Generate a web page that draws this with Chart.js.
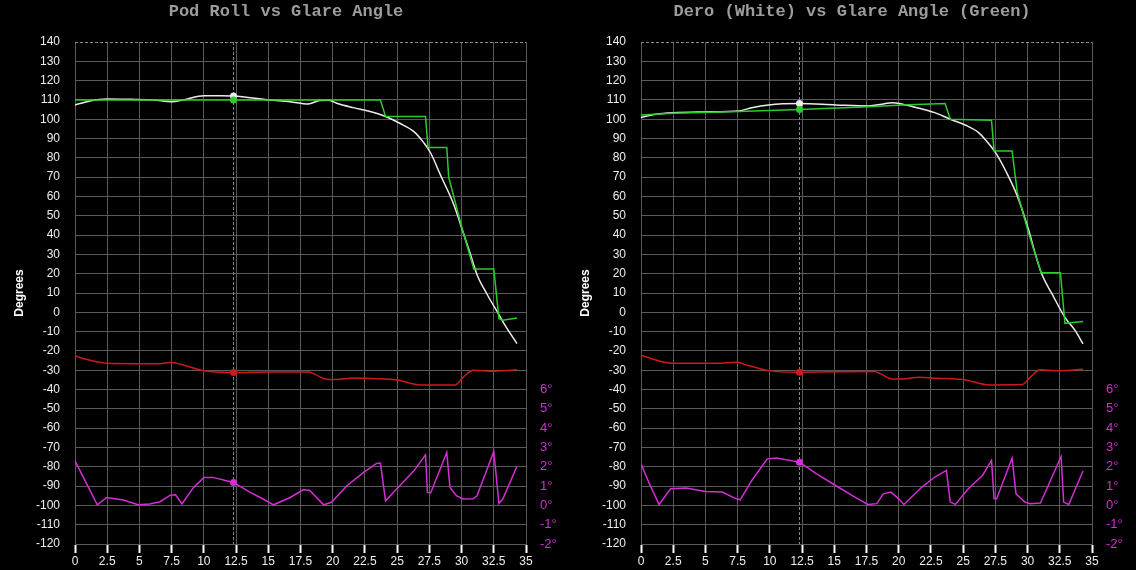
<!DOCTYPE html>
<html>
<head>
<meta charset="utf-8">
<script src="https://cdn.jsdelivr.net/npm/chart.js@4.4.1/dist/chart.umd.min.js"></script>
<style>
  body { margin: 0; background: #000; width: 1136px; height: 570px; overflow: hidden; position: relative; }
  canvas { position: absolute; top: 0; }
</style>
</head>
<body>
<canvas id="podChart" width="568" height="570" style="left:0"></canvas>
<canvas id="deroChart" width="568" height="570" style="left:566px"></canvas>
<script>
// cursor position (seconds)
const CROSS_X = 12.3;

// --- Pod Roll chart ---
const podRollX = [0, 1.16, 2.5, 4.3, 6.1, 7.5, 8.4, 10, 11.3, 12.3, 15.1, 16.7, 18.1, 19.0, 19.7, 20.3, 21.6, 22.9, 24.1, 25.2, 26.3, 27.0, 27.6, 28.3, 29.4, 30.1, 30.7, 31.2, 32.0, 32.9, 33.5, 34.3];
const podRollY = [107.4, 109.5, 110.5, 110.3, 110, 109.1, 110, 112.2, 112.2, 112, 110, 109.1, 107.9, 109.7, 109.8, 108.3, 106, 104, 101.4, 97.9, 93.6, 88.4, 82.5, 72, 55.7, 41.9, 29.8, 19.5, 9.1, -1.2, -8.1, -16.2];

const podGlareX = [0, 12.3, 23.7, 24.1, 27.2, 27.4, 28.85, 29.0, 30.1, 30.95, 32.5, 32.9, 33.2, 34.3];
const podGlareY = [110, 110, 110, 101.4, 101.4, 85.3, 85.3, 70, 42, 22.4, 22.4, -3.3, -4.1, -2.9];

const podRedX = [0, 1.16, 2.5, 4.8, 6.6, 7.4, 8.2, 10, 12.3, 15.1, 18.1, 18.6, 19.5, 20.3, 21.6, 22.9, 25, 26.8, 29.5, 30.1, 30.9, 32.2, 34.3];
const podRedY = [-22.6, -24.8, -26.4, -26.6, -26.6, -26, -26.9, -30.3, -31.2, -30.9, -30.9, -32, -34.7, -34.8, -34, -34.3, -35, -37.6, -37.6, -33.8, -30, -30.5, -29.8];

const podMagX = [0, 0.78, 1.73, 2.46, 3.75, 4.9, 5.8, 6.6, 7.4, 7.8, 8.3, 9.2, 10, 10.7, 12.3, 13.6, 14.6, 15.4, 16.7, 17.7, 18.2, 19.3, 19.9, 21.1, 22.4, 23.4, 23.7, 24.1, 25.2, 26.3, 27.2, 27.35, 27.6, 28.85, 29.1, 29.6, 30.1, 30.9, 31.2, 32.5, 32.9, 33.2, 34.3];
const podMagDeg = [2.31, 1.28, 0.03, 0.41, 0.28, 0.03, 0.07, 0.19, 0.53, 0.55, 0.07, 0.93, 1.45, 1.45, 1.19, 0.67, 0.33, 0.03, 0.41, 0.81, 0.79, 0.03, 0.16, 1.02, 1.71, 2.17, 2.19, 0.24, 1.02, 1.79, 2.62, 0.67, 0.64, 2.74, 0.93, 0.5, 0.33, 0.34, 0.5, 2.79, 0.1, 0.33, 2.03];

// --- Dero chart ---
const deroX = [0, 1.16, 2.5, 4.8, 7.6, 8.6, 9.9, 12.3, 15.1, 17.7, 18.7, 19.5, 20.3, 21.6, 22.8, 24.0, 25.2, 26.2, 26.8, 27.5, 28.3, 29.2, 30.1, 30.6, 31.1, 31.9, 32.9, 33.7, 34.3];
const deroY = [100.9, 102.6, 103.4, 103.8, 104.3, 106, 107.4, 108.1, 107.4, 106.9, 107.8, 108.6, 107.8, 105.7, 103.4, 100, 96.9, 93.1, 88.8, 82.8, 73.3, 60.3, 42.2, 30.2, 19.8, 9.5, -2.6, -9.5, -16.4];

const deroGlareX = [0, 2.5, 7.6, 12.3, 17.7, 20.3, 23.6, 24.0, 27.2, 27.4, 28.8, 29.2, 30.1, 31.05, 32.55, 32.9, 34.3];
const deroGlareY = [102.2, 103.1, 104, 105, 106.4, 107.4, 108.1, 100, 99.5, 83.6, 83.6, 62.1, 40.5, 20.5, 20.5, -5.7, -4.7];

const deroRedX = [0, 2.5, 6.1, 7.5, 8.1, 9.9, 12.3, 18.1, 18.6, 19.5, 20.3, 21.6, 22.8, 25.0, 27.0, 29.6, 30.2, 31.0, 32.1, 34.3];
const deroRedY = [-22.4, -26.4, -26.4, -25.9, -27.1, -30.2, -31, -30.7, -31.9, -34.5, -34.5, -33.6, -34.1, -34.8, -37.6, -37.4, -33.6, -29.8, -30.3, -29.5];

const deroMagX = [0, 0.65, 1.4, 2.3, 3.5, 5.0, 6.3, 7.4, 7.7, 8.6, 9.8, 10.5, 12.3, 13.6, 15.1, 16.6, 17.6, 18.3, 18.8, 19.4, 20.0, 20.4, 21.8, 22.8, 23.7, 24.0, 24.4, 25.4, 26.5, 27.2, 27.4, 27.6, 28.8, 29.1, 29.8, 30.2, 31.0, 32.6, 32.8, 33.2, 34.3];
const deroMagDeg = [2.16, 1.12, 0.05, 0.86, 0.9, 0.72, 0.69, 0.34, 0.29, 1.29, 2.41, 2.45, 2.24, 1.64, 1.03, 0.43, 0.05, 0.09, 0.6, 0.69, 0.34, 0.05, 0.95, 1.47, 1.81, 0.17, 0.05, 0.86, 1.55, 2.33, 0.34, 0.34, 2.45, 0.6, 0.17, 0.09, 0.12, 2.53, 0.17, 0.05, 1.78];

const COLORS = { white: '#ececec', green: '#2ccb2c', red: '#cf1a1a', magenta: '#d42ed4' };
const GRID = '#5a5a5a';
const LABEL_FONT = "'Liberation Sans', Arial, sans-serif";

function toPoints(xs, ys) {
    return xs.map((x, i) => ({ x: x, y: ys[i] }));
}

function series(xs, ys, color, opts) {
    return Object.assign({
        data: toPoints(xs, ys),
        borderColor: color,
        backgroundColor: color,
        borderWidth: 1.5,
        tension: 0,
        pointRadius: ctx => (ctx.raw && ctx.raw.x === CROSS_X ? 3.5 : 0),
        pointHoverRadius: 0,
        pointBorderWidth: 0,
        yAxisID: 'y'
    }, opts || {});
}

// dashed top line + vertical cursor line
const crosshairPlugin = {
    id: 'crosshair',
    beforeDatasetsDraw(chart) {
        const { ctx, chartArea, scales } = chart;
        ctx.save();
        ctx.lineWidth = 1;
        ctx.setLineDash([3, 2]);
        ctx.strokeStyle = '#8a8a8a';
        ctx.beginPath();
        ctx.moveTo(chartArea.left, chartArea.top + 0.5);
        ctx.lineTo(chartArea.right, chartArea.top + 0.5);
        ctx.stroke();
        const cx = Math.round(scales.x.getPixelForValue(CROSS_X)) + 0.5;
        ctx.strokeStyle = '#7b8796';
        ctx.beginPath();
        ctx.moveTo(cx, chartArea.top);
        ctx.lineTo(cx, chartArea.bottom);
        ctx.stroke();
        ctx.restore();
    }
};

function makeChart(id, title, datasets) {
    return new Chart(document.getElementById(id), {
        type: 'line',
        data: { datasets: datasets },
        plugins: [crosshairPlugin],
        options: {
            responsive: false,
            animation: false,
            events: [],
            layout: { padding: { left: 4, right: 0, top: 0, bottom: 0 } },
            plugins: {
                legend: { display: false },
                tooltip: { enabled: false },
                title: {
                    display: true,
                    text: title,
                    color: '#9c9c9c',
                    font: { family: "'Liberation Mono', 'Courier New', monospace", size: 17, weight: 'bold' },
                    padding: { top: 2, bottom: 19.6 }
                }
            },
            scales: {
                x: {
                    type: 'linear',
                    min: 0,
                    max: 35,
                    ticks: {
                        stepSize: 2.5,
                        color: '#eeeeee',
                        font: { family: LABEL_FONT, size: 12 },
                        padding: 1,
                        maxRotation: 0
                    },
                    grid: { color: GRID, tickColor: '#ffffff', tickWidth: 2, tickLength: 9 },
                    border: { color: GRID },
                    afterFit: s => { s.height = 26; }
                },
                y: {
                    min: -120,
                    max: 140,
                    ticks: {
                        stepSize: 10,
                        color: '#eeeeee',
                        font: { family: LABEL_FONT, size: 12 },
                        padding: 15,
                        autoSkip: false
                    },
                    grid: {
                        color: ctx => (ctx.tick && ctx.tick.value === 140 ? 'rgba(0,0,0,0)' : GRID),
                        drawTicks: false
                    },
                    border: { color: GRID },
                    title: {
                        display: true,
                        text: 'Degrees',
                        color: '#ffffff',
                        font: { family: LABEL_FONT, size: 12, weight: 'bold' },
                        padding: { top: 8, bottom: 4 }
                    },
                    afterFit: s => { s.width = 71; }
                },
                y2: {
                    position: 'right',
                    min: -2,
                    max: 24,
                    ticks: {
                        stepSize: 1,
                        color: COLORS.magenta,
                        font: { family: LABEL_FONT, size: 13 },
                        padding: 14,
                        autoSkip: false,
                        callback: v => v + '°'
                    },
                    afterBuildTicks: s => { s.ticks = s.ticks.filter(t => t.value <= 6); },
                    grid: { drawOnChartArea: false, drawTicks: false },
                    border: { display: false },
                    afterFit: s => { s.width = 42; }
                }
            }
        }
    });
}

makeChart('podChart', 'Pod Roll vs Glare Angle', [
    series(podGlareX, podGlareY, COLORS.green, { order: 0 }),
    series(podRollX, podRollY, COLORS.white, { order: 1, cubicInterpolationMode: 'monotone' }),
    series(podRedX, podRedY, COLORS.red, { order: 2, cubicInterpolationMode: 'monotone' }),
    series(podMagX, podMagDeg, COLORS.magenta, { order: 3, yAxisID: 'y2' })
]);

makeChart('deroChart', 'Dero (White) vs Glare Angle (Green)', [
    series(deroGlareX, deroGlareY, COLORS.green, { order: 0 }),
    series(deroX, deroY, COLORS.white, { order: 1, cubicInterpolationMode: 'monotone' }),
    series(deroRedX, deroRedY, COLORS.red, { order: 2, cubicInterpolationMode: 'monotone' }),
    series(deroMagX, deroMagDeg, COLORS.magenta, { order: 3, yAxisID: 'y2' })
]);
</script>
</body>
</html>
